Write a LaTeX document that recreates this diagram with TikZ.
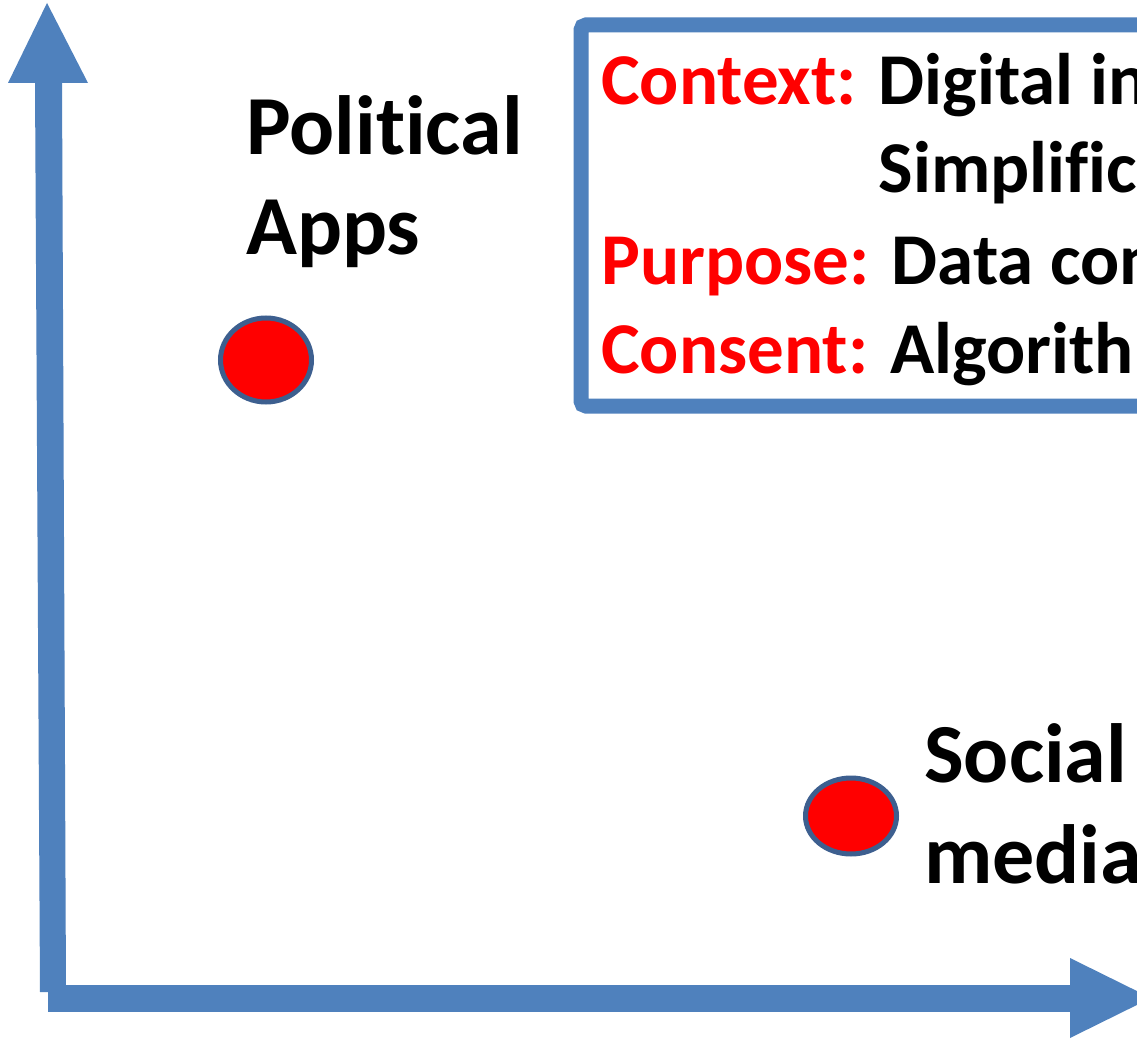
\documentclass[tikz,border=0pt]{standalone}
\usepackage{fontspec}
\setmainfont{Carlito}[Ligatures=NoCommon]
\usetikzlibrary{shapes.geometric}
\definecolor{axisblue}{HTML}{4F81BD}
\definecolor{dotedge}{HTML}{3D5F8F}
\definecolor{lblred}{HTML}{FF0000}
\tikzset{
  axis/.style={fill=axisblue, draw=none},
  dot/.style={ellipse, fill=lblred, draw=dotedge, line width=5pt, inner sep=0pt},
  biglbl/.style={anchor=base west, inner sep=0pt, font=\bfseries\fontsize{84}{100}\selectfont},
  boxlbl/.style={anchor=base west, inner sep=0pt, font=\bfseries\fontsize{73}{88}\selectfont},
  infobox/.style={draw=axisblue, line width=15pt, rounded corners=5pt, fill=white}
}
\begin{document}
\begin{tikzpicture}[x=1pt,y=-1pt]
\useasboundingbox (0,0) rectangle (1137,1040);
\clip (0,0) rectangle (1137,1040);
\fill[white] (0,0) rectangle (1137,1040);
% vertical axis
\fill[axis] (35,82) -- (62,82) -- (66,992) -- (40,992) -- cycle;
\fill[axis] (8,83) -- (88,83) -- (47,3) -- cycle;
% horizontal axis
\fill[axis] (48,985) -- (1071,985) -- (1071,1012) -- (48,1012) -- cycle;
\fill[axis] (1070,958) -- (1070,1038) -- (1151,998) -- cycle;
% info box
\draw[infobox] (581,25) rectangle (1200,406);
\node[boxlbl] (l1) at (601,105) {\textcolor{lblred}{Context:} Digital in};
\node[boxlbl] (l2) at (601,193) {\hphantom{Context: }Simplific};
\node[boxlbl] (l3) at (601,285) {\textcolor{lblred}{Purpose:} Data con};
\node[boxlbl] (l4) at (601,373) {\textcolor{lblred}{Consent:} Algorith};
% points
\node[dot, minimum width=91pt, minimum height=84pt] (pa) at (266,360) {};
\node[dot, minimum width=91pt, minimum height=76pt] (sm) at (851,816) {};
\node[biglbl] (pt1) at (246,155) {Political};
\node[biglbl] (pt2) at (246,255) {Apps};
\node[biglbl] (st1) at (924,782) {Social};
\node[biglbl] (st2) at (924,883) {media};
\end{tikzpicture}
\end{document}
